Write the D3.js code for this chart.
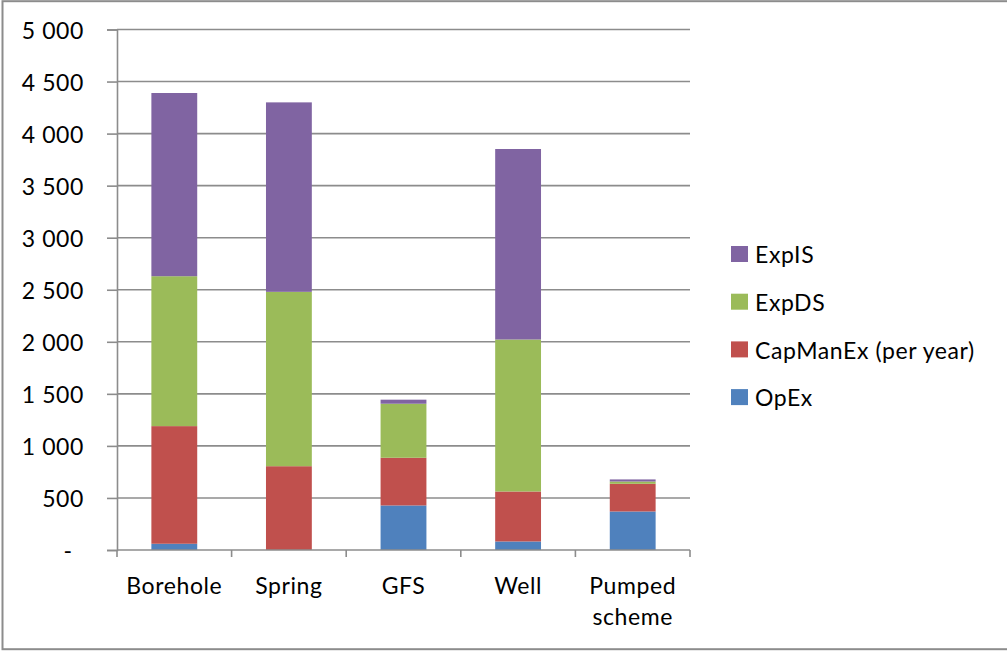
<!DOCTYPE html>
<html>
<head>
<meta charset="utf-8">
<script src="https://cdn.jsdelivr.net/npm/d3@7"></script>
<style>
  html, body { margin: 0; padding: 0; background: #fff; }
  svg { display: block; }
  text { font-family: Lato, "Noto Sans", sans-serif; fill: #000; letter-spacing: 0.6px; }
</style>
</head>
<body>
<svg id="chart" width="1007" height="651"></svg>
<script>
// Annual cost components per supply type
const categories = ["Borehole", "Spring", "GFS", "Well", "Pumped scheme"];
const seriesNames = ["OpEx", "CapManEx (per year)", "ExpDS", "ExpIS"];
const opEx      = [60, 0, 428, 82, 370];
const capManEx  = [1130, 805, 458, 480, 266];
const expDS     = [1440, 1675, 519, 1460, 22];
const expIS     = [1760, 1820, 39, 1830, 20];
const yTicks    = [0, 500, 1000, 1500, 2000, 2500, 3000, 3500, 4000, 4500, 5000];
const colors    = ["#4F81BD", "#C0504D", "#9BBB59", "#8064A2"];

const seriesValues = [opEx, capManEx, expDS, expIS];
const rows = categories.map((c, i) => {
  const r = { category: c };
  seriesNames.forEach((s, k) => { r[s] = seriesValues[k][i]; });
  return r;
});

const svg = d3.select("#chart");
const plot = { left: 117, right: 690, top: 29.5, bottom: 550 };
const gridColor = "#8c8c8c";
const fontSize = "23px";

// outer frame
svg.append("rect")
  .attr("x", 2.5).attr("y", 1.2)
  .attr("width", 1020).attr("height", 648)
  .attr("fill", "none").attr("stroke", gridColor).attr("stroke-width", 2);

const x = d3.scaleBand().domain(categories).range([plot.left, plot.right]).paddingInner(0).paddingOuter(0);
const barW = x.bandwidth() / 2.5;
const y = d3.scaleLinear().domain([0, 5000]).range([plot.bottom, plot.top]);

const fmt = v => v === 0 ? "-" : d3.format(",")(v).replace(/,/g, " ");

// horizontal gridlines
svg.append("g").selectAll("line").data(yTicks.filter(d => d > 0)).join("line")
  .attr("x1", plot.left).attr("x2", plot.right)
  .attr("y1", d => y(d)).attr("y2", d => y(d))
  .attr("stroke", gridColor).attr("stroke-width", 1.6);

// y axis
const yAxis = svg.append("g").attr("transform", `translate(${plot.left},0)`)
  .call(d3.axisLeft(y).tickValues(yTicks).tickSize(10).tickFormat(""));
yAxis.select(".domain").attr("stroke", gridColor).attr("stroke-width", 1.6);
yAxis.selectAll(".tick line").attr("stroke", gridColor).attr("stroke-width", 1.6);

svg.append("g").selectAll("text").data(yTicks).join("text")
  .attr("x", d => d === 0 ? 68 : 84)
  .attr("y", d => y(d) + 1)
  .attr("dy", "0.36em")
  .attr("text-anchor", d => d === 0 ? "middle" : "end")
  .style("font-size", fontSize)
  .text(fmt);

// stacked bars
const stack = d3.stack().keys(seriesNames)(rows);
svg.append("g").selectAll("g").data(stack).join("g")
  .attr("fill", (d, i) => colors[i])
  .selectAll("rect").data(d => d).join("rect")
  .attr("x", d => x(d.data.category) + (x.bandwidth() - barW) / 2)
  .attr("width", barW)
  .attr("y", d => y(d[1]))
  .attr("height", d => y(d[0]) - y(d[1]));

// x axis with boundary ticks
const bounds = categories.map(c => x(c)).concat([plot.right]);
svg.append("line")
  .attr("x1", plot.left).attr("x2", plot.right)
  .attr("y1", plot.bottom).attr("y2", plot.bottom)
  .attr("stroke", gridColor).attr("stroke-width", 1.6);
svg.append("g").selectAll("line").data(bounds).join("line")
  .attr("x1", d => d).attr("x2", d => d)
  .attr("y1", plot.bottom).attr("y2", plot.bottom + 7)
  .attr("stroke", gridColor).attr("stroke-width", 1.6);

// category labels (wrapped onto two lines where needed)
const catLabels = svg.append("g").selectAll("text").data(categories).join("text")
  .attr("x", d => x(d) + x.bandwidth() / 2)
  .attr("y", 594)
  .attr("text-anchor", "middle")
  .style("font-size", fontSize);
catLabels.each(function (d) {
  const words = d.split(" ");
  d3.select(this).selectAll("tspan").data(words).join("tspan")
    .attr("x", x(d) + x.bandwidth() / 2)
    .attr("dy", (w, i) => i === 0 ? 0 : 31)
    .text(w => w);
});

// legend, top to bottom in reverse stacking order
const legendItems = seriesNames.map((s, i) => ({ name: s, color: colors[i] })).reverse();
const legend = svg.append("g").selectAll("g").data(legendItems).join("g")
  .attr("transform", (d, i) => `translate(731, ${254 + i * 47.7})`);
legend.append("rect")
  .attr("x", 0).attr("y", -8).attr("width", 17).attr("height", 16)
  .attr("fill", d => d.color);
legend.append("text")
  .attr("x", 24).attr("y", 1).attr("dy", "0.36em")
  .style("font-size", fontSize)
  .text(d => d.name);
</script>
</body>
</html>
